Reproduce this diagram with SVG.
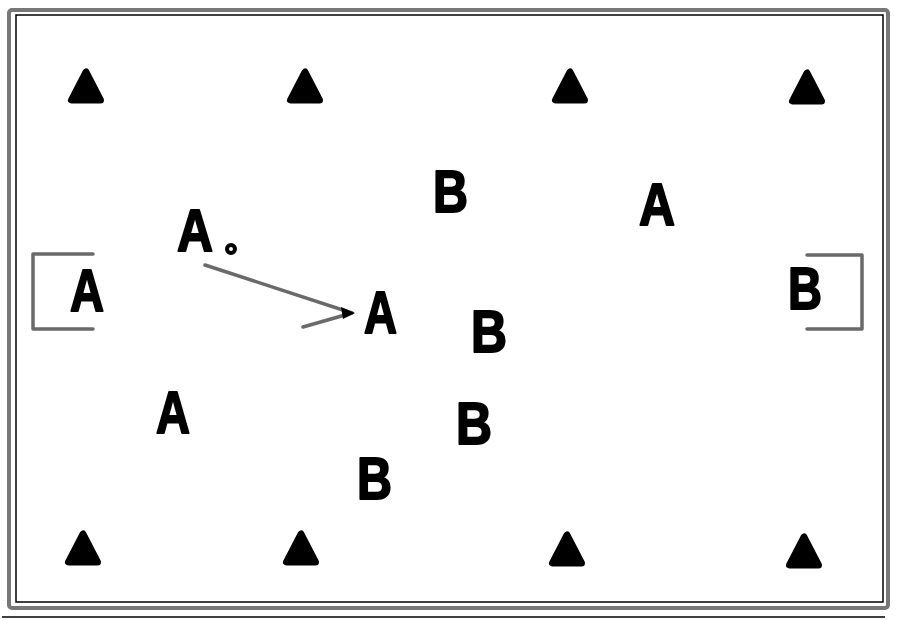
<svg xmlns="http://www.w3.org/2000/svg" xmlns:xlink="http://www.w3.org/1999/xlink" width="900" height="620" viewBox="0 0 900 620">
<style>
.lt{font-family:"Liberation Sans",Arial,sans-serif;font-weight:bold;font-size:59px;fill:#000;stroke:#000;stroke-width:2;stroke-linejoin:round}
.br{fill:none;stroke:#6a6a6a;stroke-width:3.5;stroke-linejoin:round;stroke-linecap:round}
.tri{fill:#000;stroke:#000;stroke-width:7;stroke-linejoin:round}
</style>
<defs>
<path id="t" class="tri" d="M0,-14 L-14.5,14 L14.5,14 Z"/>
</defs>
<rect width="900" height="620" fill="#fff"/>
<g id="frame">
<rect x="9" y="10" width="879" height="598" rx="3" fill="none" stroke="#777" stroke-width="4"/>
<rect x="16" y="15" width="867" height="587" fill="none" stroke="#000" stroke-width="1.5"/>
<line x1="2" y1="617" x2="885" y2="617" stroke="#000" stroke-width="1.5"/>
</g>
<g id="cones">
<use xlink:href="#t" x="86" y="86"/>
<use xlink:href="#t" x="305" y="86"/>
<use xlink:href="#t" x="570" y="86"/>
<use xlink:href="#t" x="807" y="87"/>
<use xlink:href="#t" x="83" y="548"/>
<use xlink:href="#t" x="301" y="548"/>
<use xlink:href="#t" x="567" y="549"/>
<use xlink:href="#t" x="804" y="551"/>
</g>
<g id="goals">
<path class="br" d="M93,254 H33 V329 H93"/>
<path class="br" d="M807,255 H862 V329 H807"/>
</g>
<g id="players">
<text class="lt" x="177" y="251" textLength="36" lengthAdjust="spacingAndGlyphs">A</text>
<text class="lt" x="70" y="311" textLength="34" lengthAdjust="spacingAndGlyphs">A</text>
<text class="lt" x="364" y="333" textLength="33" lengthAdjust="spacingAndGlyphs">A</text>
<text class="lt" x="156" y="433" textLength="34" lengthAdjust="spacingAndGlyphs">A</text>
<text class="lt" x="639" y="225" textLength="36" lengthAdjust="spacingAndGlyphs">A</text>
<text class="lt" x="433" y="212" textLength="35" lengthAdjust="spacingAndGlyphs">B</text>
<text class="lt" x="471" y="352" textLength="36" lengthAdjust="spacingAndGlyphs">B</text>
<text class="lt" x="456" y="444" textLength="36" lengthAdjust="spacingAndGlyphs">B</text>
<text class="lt" x="357" y="499" textLength="35" lengthAdjust="spacingAndGlyphs">B</text>
<text class="lt" x="788" y="309" textLength="34" lengthAdjust="spacingAndGlyphs">B</text>
</g>
<g id="ball">
<circle cx="231" cy="249" r="4" fill="#fff" stroke="#000" stroke-width="4"/>
</g>
<g id="connectors">
<path d="M205,265 L352,313 L303,327" fill="none" stroke="#6a6a6a" stroke-width="3.5" stroke-linecap="round" stroke-linejoin="round"/>
<path d="M341,307 L355,313 L343,319 Z" fill="#000"/>
</g>
</svg>
